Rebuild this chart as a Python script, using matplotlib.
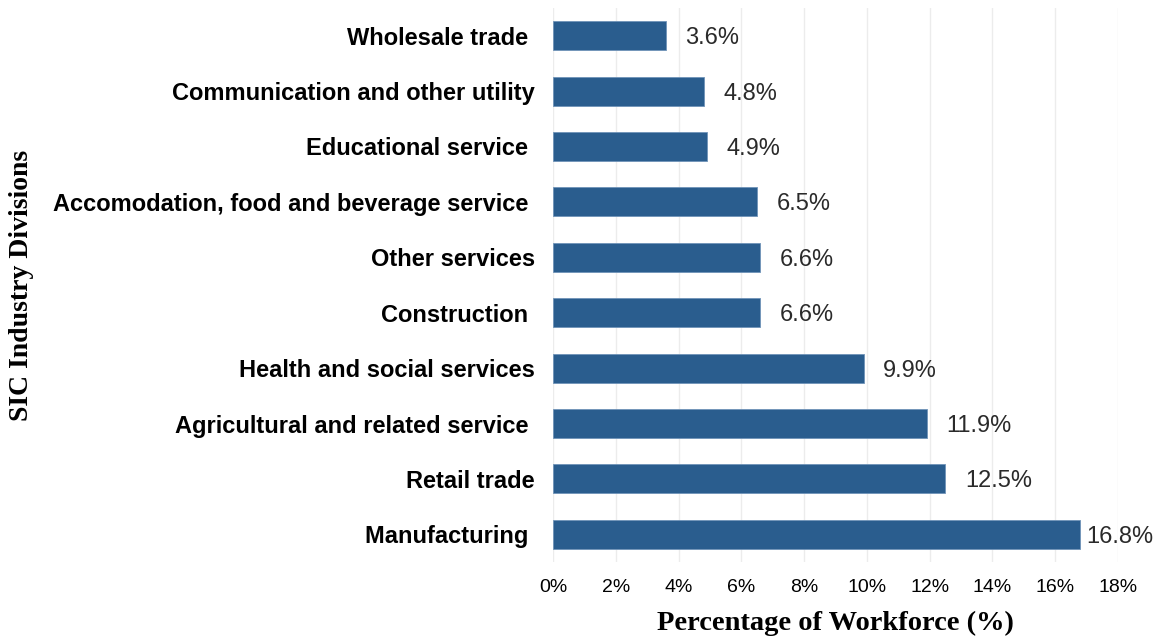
import matplotlib
matplotlib.use("Agg")
import matplotlib.pyplot as plt
from matplotlib.ticker import FuncFormatter

categories = ["Wholesale trade ", "Communication and other utility", "Educational service ",
              "Accomodation, food and beverage service ", "Other services", "Construction ",
              "Health and social services", "Agricultural and related service ", "Retail trade",
              "Manufacturing "]
values = [3.6, 4.8, 4.9, 6.5, 6.6, 6.6, 9.9, 11.9, 12.5, 16.8]
xticks = [0, 2, 4, 6, 8, 10, 12, 14, 16, 18]

fig = plt.figure(figsize=(11.71, 6.41), dpi=100)
ax = fig.add_axes([553/1171, 1-562/641, (1118-553)/1171, (562-8)/641])

y = list(range(len(categories)))
ax.barh(y, values, height=0.52, color="#2a5d8e", edgecolor="#6f93b8", linewidth=0.6, zorder=3)
ax.set_ylim(len(categories)-0.5, -0.5)
ax.set_xlim(0, 18)
ax.set_xticks(xticks)
ax.xaxis.set_major_formatter(FuncFormatter(lambda v, p: f"{v:.0f}%"))
ax.set_yticks(y)
ax.set_yticklabels(categories, fontfamily="Liberation Sans", fontweight="bold", fontsize=17)
for lab in ax.get_xticklabels():
    lab.set_fontfamily("Liberation Sans")
    lab.set_fontsize(14)
ax.tick_params(axis="both", length=0)
ax.tick_params(axis="y", pad=13)
ax.tick_params(axis="x", pad=12)
ax.grid(axis="x", color="#ececec", linewidth=1, zorder=0)
for s in ax.spines.values():
    s.set_visible(False)

vmax = max(values)
for yi, v in zip(y, values):
    off = 4 if v == vmax else 14
    ax.annotate(f"{v:.1f}%", (v, yi), xytext=(off, 0), textcoords="offset points",
                va="center_baseline", ha="left", fontsize=17, fontfamily="Liberation Sans",
                color="#2a2a2a")

ax.set_xlabel("Percentage of Workforce (%)", fontfamily="Liberation Serif", fontweight="bold",
              fontsize=20.5, labelpad=11)
fig.text(22/1171, 1-285/641, "SIC Industry Divisions", rotation=90, ha="center", va="center",
         fontfamily="Liberation Serif", fontweight="bold", fontsize=20)

fig.savefig("out.png", dpi=100)
